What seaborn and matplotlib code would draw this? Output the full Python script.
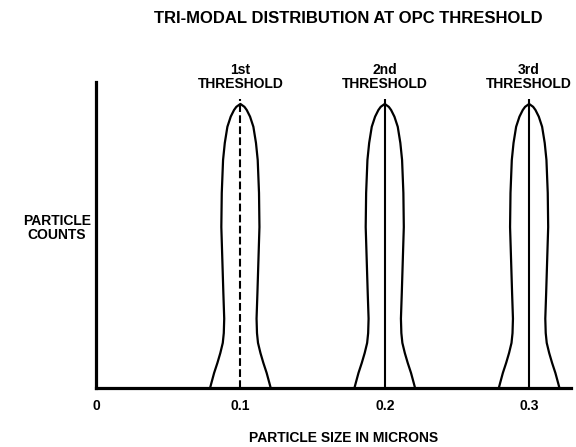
import numpy as np
import pandas as pd
import seaborn as sns
import matplotlib.pyplot as plt

# peak centres (microns) and their labels
centers = [0.1, 0.2, 0.3]
threshold_labels = ['1st\nTHRESHOLD', '2nd\nTHRESHOLD', '3rd\nTHRESHOLD']
line_styles = ['--', '-', '-']

# shape of one peak: height (fraction) vs half width (microns)
profile_height = [0.0, 0.017, 0.052, 0.087, 0.121, 0.156, 0.190, 0.240, 0.329, 0.443,
                  0.557, 0.675, 0.789, 0.848, 0.904, 0.939, 0.962, 0.973, 0.983]
profile_halfwidth = [0.0210, 0.0201, 0.0182, 0.0159, 0.0139, 0.0122, 0.0115, 0.0112, 0.0118, 0.0125,
                     0.0132, 0.0129, 0.0120, 0.0108, 0.0090, 0.0067, 0.0044, 0.0028, 0.0]

xticks = [0, 0.1, 0.2, 0.3]
xtick_labels = ['0', '0.1', '0.2', '0.3']

sns.set_style('white')
plt.rcParams['font.family'] = ['Liberation Sans', 'DejaVu Sans']
plt.rcParams['text.color'] = 'black'
plt.rcParams['xtick.color'] = 'black'
plt.rcParams['axes.labelcolor'] = 'black'

rows = []
for i, c in enumerate(centers):
    h = np.array(profile_height)
    w = np.array(profile_halfwidth)
    xs = np.concatenate([c - w, (c + w)[::-1]])
    ys = np.concatenate([h, h[::-1]])
    for x, y in zip(xs, ys):
        rows.append({'peak': i, 'x': x, 'y': y})
df = pd.DataFrame(rows)

fig = plt.figure(figsize=(5.76, 4.47), dpi=100)
ax = fig.add_axes([0.1667, 0.132, 0.8246, 0.6846])

sns.lineplot(data=df, x='x', y='y', units='peak', estimator=None, sort=False,
             color='black', linewidth=1.6, ax=ax)

for c, lab, ls in zip(centers, threshold_labels, line_styles):
    ax.vlines(c, 0, 1.0, colors='black', linestyles=ls, linewidth=1.5)
    ax.text(c, 1.027, lab, ha='center', va='bottom', fontsize=10,
            fontweight='bold', linespacing=1.05, color='black')

ax.set_xlim(0, 0.329)
ax.set_ylim(0, 1.059)
ax.set_xticks(xticks)
ax.set_xticklabels(xtick_labels, fontsize=10, fontweight='bold', color='black')
ax.set_yticks([])
ax.tick_params(axis='x', length=0, pad=8)
ax.set_xlabel('')
ax.set_ylabel('')
for s in ['top', 'right']:
    ax.spines[s].set_visible(False)
for s in ['left', 'bottom']:
    ax.spines[s].set_linewidth(2.3)
    ax.spines[s].set_color('black')

fig.text(0.604, 0.959, 'TRI-MODAL DISTRIBUTION AT OPC THRESHOLD', ha='center', va='center',
         fontsize=12, fontweight='bold', color='black')
fig.text(0.597, 0.02, 'PARTICLE SIZE IN MICRONS', ha='center', va='center',
         fontsize=10, fontweight='bold', color='black')
fig.text(0.099, 0.49, 'PARTICLE\nCOUNTS', ha='center', va='center',
         fontsize=10, fontweight='bold', linespacing=1.0, color='black')

fig.savefig('out.png', dpi=100)
